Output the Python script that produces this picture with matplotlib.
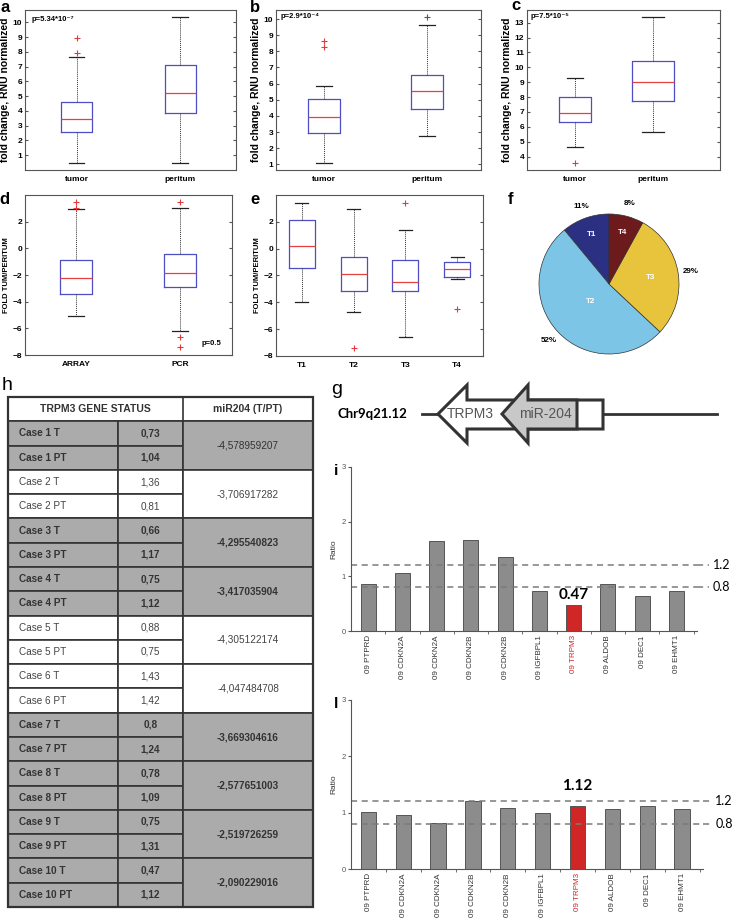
import matplotlib
matplotlib.use('Agg')
import matplotlib.pyplot as plt
from matplotlib.patches import Polygon, Rectangle
import numpy as np

plt.rcParams['font.family'] = ['Liberation Sans', 'DejaVu Sans']

W, H = 733, 918

# ---- a, b, c : fold change RNU normalized (tumor / peritum)
groups_tp = ['tumor', 'peritum']
a_lo = [0.5, 0.5];   a_q1 = [2.56, 3.88]; a_med = [3.48, 5.24]; a_q3 = [4.63, 7.09]; a_hi = [7.67, 10.38]
a_fliers = [[7.9, 8.92], []]
b_lo = [1.1, 2.75];  b_q1 = [2.94, 4.41]; b_med = [3.91, 5.54]; b_q3 = [5.03, 6.53]; b_hi = [5.85, 9.63]
b_fliers = [[8.29, 8.66], [10.14]]
c_lo = [4.67, 5.64]; c_q1 = [6.35, 7.74]; c_med = [6.9, 9.0];   c_q3 = [8.02, 10.45]; c_hi = [9.3, 13.4]
c_fliers = [[3.6], []]
p_abc = ['p=5.34*10⁻⁷', 'p=2.9*10⁻⁴', 'p=7.5*10⁻⁵']

# ---- d : ARRAY vs PCR
groups_d = ['ARRAY', 'PCR']
d_lo = [-5.04, -6.2]; d_q1 = [-3.43, -2.89]; d_med = [-2.2, -1.83]; d_q3 = [-0.86, -0.42]; d_hi = [2.94, 3.04]
d_fliers = [[3.04, 3.45], [3.45, -6.64, -7.38]]

# ---- e : by stage
groups_e = ['T1', 'T2', 'T3', 'T4']
e_lo = [-3.95, -4.7, -6.6, -2.27]; e_q1 = [-1.45, -3.12, -3.15, -2.12]; e_med = [0.17, -1.87, -2.45, -1.55]
e_q3 = [2.12, -0.65, -0.87, -0.98]; e_hi = [3.42, 2.97, 1.37, -0.62]
e_fliers = [[], [-7.4], [3.37], [-4.5]]

# ---- f : pie
pie_labels = ['T1', 'T2', 'T3', 'T4']
pie_pct = [11, 52, 29, 8]
pie_colors = ['#2c3082', '#7cc5e7', '#e8c33c', '#6c1a1b']

# ---- h : table
cases = ['Case %d' % k for k in range(1, 11)]
trpm3_t = [0.73, 1.36, 0.66, 0.75, 0.88, 1.43, 0.8, 0.78, 0.75, 0.47]
trpm3_pt = [1.04, 0.81, 1.17, 1.12, 0.75, 1.42, 1.24, 1.09, 1.31, 1.12]
mir204 = ['-4,578959207', '-3,706917282', '-4,295540823', '-3,417035904', '-4,305122174',
          '-4,047484708', '-3,669304616', '-2,577651003', '-2,519726259', '-2,090229016']
shaded = [True, False, True, True, False, False, True, True, True, True]
mir_bold = [False, False, True, True, False, False, True, True, True, True]

# ---- i, l : ratio bars
genes = ['09 PTPRD', '09 CDKN2A', '09 CDKN2A', '09 CDKN2B', '09 CDKN2B', '09 IGFBPL1',
         '09 TRPM3', '09 ALDOB', '09 DEC1', '09 EHMT1']
ratio_i = [0.86, 1.07, 1.64, 1.67, 1.35, 0.73, 0.47, 0.86, 0.64, 0.74]
ratio_l = [1.02, 0.96, 0.81, 1.21, 1.08, 0.99, 1.12, 1.06, 1.12, 1.07]
thresholds = [1.2, 0.8]


fig = plt.figure(figsize=(W / 100, H / 100), dpi=100)

# overlay in pixel coords for table, gene diagram and panel letters
ov = fig.add_axes([0, 0, 1, 1])
ov.set_xlim(0, W)
ov.set_ylim(H, 0)
ov.axis('off')


def px_axes(x0, y0, x1, y1):
    return fig.add_axes([x0 / W, 1 - y1 / H, (x1 - x0) / W, (y1 - y0) / H])


def stats(lo, q1, med, q3, hi, fl):
    return [dict(whislo=lo[k], q1=q1[k], med=med[k], q3=q3[k], whishi=hi[k], fliers=fl[k])
            for k in range(len(med))]


def matlab_box(ax, st, widths, labels, xlim, ylim, yticks, ylabel, ylab_size=7.5):
    pos = np.arange(1, len(st) + 1)
    out = ax.bxp(st, positions=pos, widths=widths, capwidths=[w * 0.5 for w in widths],
                 boxprops=dict(color='#4d4dc4', lw=0.9),
                 medianprops=dict(color='#e8403f', lw=0.9),
                 whiskerprops=dict(color='#333333', lw=0.7, linestyle=(0, (1, 1))),
                 capprops=dict(color='#222222', lw=0.9),
                 flierprops=dict(marker='+', markeredgecolor='#e03a3a', markersize=4, mew=0.8,
                                 linestyle='none'))
    ax.set_xlim(xlim)
    ax.set_ylim(ylim)
    ax.set_yticks(yticks)
    ax.set_xticks(pos)
    ax.set_xticklabels(labels, fontweight='bold', fontsize=6)
    ax.tick_params(axis='x', length=0, pad=4)
    ax.tick_params(axis='y', direction='in', right=True, length=2.5, labelsize=6, pad=2,
                   color='#555555')
    for t in ax.get_yticklabels():
        t.set_fontweight('bold')
    for s in ax.spines.values():
        s.set_color('#555555')
        s.set_linewidth(0.8)
    ax.set_ylabel(ylabel, fontsize=ylab_size, fontweight='bold', labelpad=2)
    return out


# a
ax = px_axes(25, 10, 236, 170)
matlab_box(ax, stats(a_lo, a_q1, a_med, a_q3, a_hi, a_fliers), [0.3, 0.3], groups_tp,
           (0.5, 2.54), (0.0, 10.83), range(1, 11), 'fold change, RNU normalized')
ax.text(0.03, 0.94, p_abc[0], transform=ax.transAxes, fontsize=5.5, fontweight='bold', va='center')

# b
ax = px_axes(276, 10, 481, 170)
bp = matlab_box(ax, stats(b_lo, b_q1, b_med, b_q3, b_hi, b_fliers), [0.31, 0.31], groups_tp,
                (0.53, 2.52), (0.65, 10.56), range(1, 11), 'fold change, RNU normalized')
bp['fliers'][1].set_markeredgecolor('#555555')
ax.text(0.02, 0.96, p_abc[1], transform=ax.transAxes, fontsize=5.5, fontweight='bold', va='center')

# c
ax = px_axes(527, 10, 720, 170)
matlab_box(ax, stats(c_lo, c_q1, c_med, c_q3, c_hi, c_fliers), [0.41, 0.55], groups_tp,
           (0.38, 2.86), (3.1, 13.85), range(4, 14), 'fold change, RNU normalized')
ax.text(0.02, 0.96, p_abc[2], transform=ax.transAxes, fontsize=5.5, fontweight='bold', va='center')

# d
ax = px_axes(25, 195, 232, 355)
matlab_box(ax, stats(d_lo, d_q1, d_med, d_q3, d_hi, d_fliers), [0.3, 0.31], groups_d,
           (0.51, 2.5), (-8, 4), range(-8, 3, 2), 'FOLD TUM/PERITUM', 5.5)
ax.text(0.855, 0.07, 'p=0.5', transform=ax.transAxes, fontsize=5.5, fontweight='bold', va='center')

# e
ax = px_axes(276, 195, 483, 356)
matlab_box(ax, stats(e_lo, e_q1, e_med, e_q3, e_hi, e_fliers), [0.5] * 4, groups_e,
           (0.5, 4.5), (-8, 4), range(-8, 3, 2), 'FOLD TUM/PERITUM', 5.5)

# f pie
ax = px_axes(539, 214, 679, 354)
wedges, texts = ax.pie(pie_pct, colors=pie_colors, startangle=90, counterclock=True,
                       labels=['%d%%' % p for p in pie_pct], labeldistance=1.18,
                       wedgeprops=dict(edgecolor='#333333', linewidth=0.5),
                       textprops=dict(fontsize=5.8, fontweight='bold'))
for t in texts:
    t.set_ha('center')
    t.set_va('center')
inner_r = [0.75, 0.37, 0.6, 0.76]
for w, lab, r in zip(wedges, pie_labels, inner_r):
    ang = np.deg2rad((w.theta1 + w.theta2) / 2)
    ax.text(r * np.cos(ang), r * np.sin(ang), lab, color='white', fontsize=5.8,
            fontweight='bold', ha='center', va='center')
ax.set_xlim(-1, 1)
ax.set_ylim(-1, 1)


# i, l ratio bars
def ratio_bars(ax, vals, lab_off, lab_x):
    x = np.arange(len(genes))
    cols = ['#d02626' if 'TRPM3' in g else '#8c8c8c' for g in genes]
    ax.bar(x, vals, width=0.44, color=cols, edgecolor='#555555', linewidth=0.7)
    for th in thresholds:
        ax.axhline(th, color='#7a7a7a', ls=(0, (4, 3)), lw=1.1, clip_on=False)
        ax.plot([1.0, lab_x - 0.01], [th, th], transform=ax.get_yaxis_transform(),
                color='#7a7a7a', ls=(0, (4, 3)), lw=1.1, clip_on=False)
        ax.text(lab_x, th, '%.1f' % th, transform=ax.get_yaxis_transform(), fontsize=9,
                family=['Lato', 'DejaVu Sans'], va='center', ha='left')
    k = [i for i, g in enumerate(genes) if 'TRPM3' in g][0]
    ax.text(k, vals[k] + lab_off, '%.2f' % vals[k], ha='center', va='bottom', fontsize=11,
            fontweight='bold', family=['Lato', 'DejaVu Sans'])
    ax.set_xlim(-0.5, 9.6)
    ax.set_ylim(0, 3)
    ax.set_yticks([0, 1, 2, 3])
    ax.set_xticks(x)
    ax.set_xticklabels(genes, rotation=90, fontsize=5.8, color='#333333')
    for t in ax.get_xticklabels():
        if 'TRPM3' in t.get_text():
            t.set_color('#d02626')
    ax.set_xticks(x + 0.5, minor=True)
    ax.tick_params(axis='x', which='major', length=0, pad=3)
    ax.tick_params(axis='x', which='minor', length=2.5, color='#555555')
    ax.tick_params(axis='y', length=2.5, labelsize=5.5, labelcolor='#555555', color='#555555', pad=1.5)
    for s in ['top', 'right']:
        ax.spines[s].set_visible(False)
    for s in ['left', 'bottom']:
        ax.spines[s].set_color('#555555')
        ax.spines[s].set_linewidth(0.8)
    ax.set_ylabel('Ratio', fontsize=6, color='#333333', labelpad=3)


ax = px_axes(351, 467, 697, 631)
ratio_bars(ax, ratio_i, 0.06, 1.045)
ax = px_axes(351, 700, 703, 869)
ratio_bars(ax, ratio_l, 0.23, 1.035)

# g gene diagram
ov.plot([422, 438], [414, 414], color='#333333', lw=2)
ov.plot([603, 717], [414, 414], color='#333333', lw=2)
ov.add_patch(Polygon([(438, 414), (467, 385), (467, 400), (603, 400), (603, 429), (467, 429), (467, 443)],
                     closed=True, facecolor='white', edgecolor='#333333', lw=2.2, joinstyle='miter'))
ov.text(470, 414, 'TRPM3', fontsize=10, color='#555555', ha='center', va='center')
ov.add_patch(Polygon([(502, 414), (528, 385), (528, 400), (577, 400), (577, 429), (528, 429), (528, 443)],
                     closed=True, facecolor='#c8c8c8', edgecolor='#333333', lw=2.2, joinstyle='miter'))
ov.text(545, 414, 'miR-204', fontsize=10, color='#555555', ha='center', va='center')
ov.text(338, 414, 'Chr9q21.12', fontsize=9.5, fontweight='bold', family=['Lato', 'DejaVu Sans'],
        ha='left', va='center')

# h table
col_x = [8, 118, 183, 313]
top = 397
rh = (907 - top) / 21.0
ov.add_patch(Rectangle((col_x[0], top), col_x[3] - col_x[0], rh, facecolor='white',
                       edgecolor='#333333', lw=1.2))
ov.plot([col_x[2], col_x[2]], [top, top + rh], color='#333333', lw=1.2)
ov.text((col_x[0] + col_x[2]) / 2, top + rh / 2, 'TRPM3 GENE STATUS', fontsize=7.5,
        fontweight='bold', color='#333333', ha='center', va='center')
ov.text((col_x[2] + col_x[3]) / 2, top + rh / 2, 'miR204 (T/PT)', fontsize=7.5,
        fontweight='bold', color='#333333', ha='center', va='center')
for k in range(len(cases)):
    fc = '#ababab' if shaded[k] else 'white'
    fw = 'bold' if shaded[k] else 'normal'
    tc = '#333333' if shaded[k] else '#444444'
    for j, (suffix, v) in enumerate([(' T', trpm3_t[k]), (' PT', trpm3_pt[k])]):
        y = top + rh * (1 + 2 * k + j)
        ov.add_patch(Rectangle((col_x[0], y), col_x[1] - col_x[0], rh, facecolor=fc,
                               edgecolor='#333333', lw=1.2))
        ov.add_patch(Rectangle((col_x[1], y), col_x[2] - col_x[1], rh, facecolor=fc,
                               edgecolor='#333333', lw=1.2))
        ov.text(col_x[0] + 11, y + rh / 2, cases[k] + suffix, fontsize=7.2, fontweight=fw,
                color=tc, ha='left', va='center')
        ov.text((col_x[1] + col_x[2]) / 2, y + rh / 2, str(v).replace('.', ','), fontsize=7.2,
                fontweight=fw, color=tc, ha='center', va='center')
    y = top + rh * (1 + 2 * k)
    ov.add_patch(Rectangle((col_x[2], y), col_x[3] - col_x[2], 2 * rh, facecolor=fc,
                           edgecolor='#333333', lw=1.2))
    ov.text((col_x[2] + col_x[3]) / 2, y + rh, mir204[k], fontsize=7.2,
            fontweight='bold' if mir_bold[k] else 'normal', color=tc, ha='center', va='center')
ov.add_patch(Rectangle((col_x[0], top), col_x[3] - col_x[0], 21 * rh, facecolor='none',
                       edgecolor='#333333', lw=1.6))

# panel letters
for lab, x, y, fw, fs in [('a', 5, 7, 'bold', 12), ('b', 255, 8, 'bold', 12), ('c', 516, 6, 'bold', 12),
                          ('d', 4, 199, 'bold', 12), ('e', 255, 199, 'bold', 12), ('f', 510, 199, 'bold', 12),
                          ('h', 7, 385, 'normal', 14), ('g', 337, 389, 'normal', 14),
                          ('i', 336, 471, 'bold', 11), ('l', 336, 704, 'bold', 11)]:
    ov.text(x, y, lab, fontsize=fs, fontweight=fw, ha='center', va='center')

fig.savefig('out.png', dpi=100)
